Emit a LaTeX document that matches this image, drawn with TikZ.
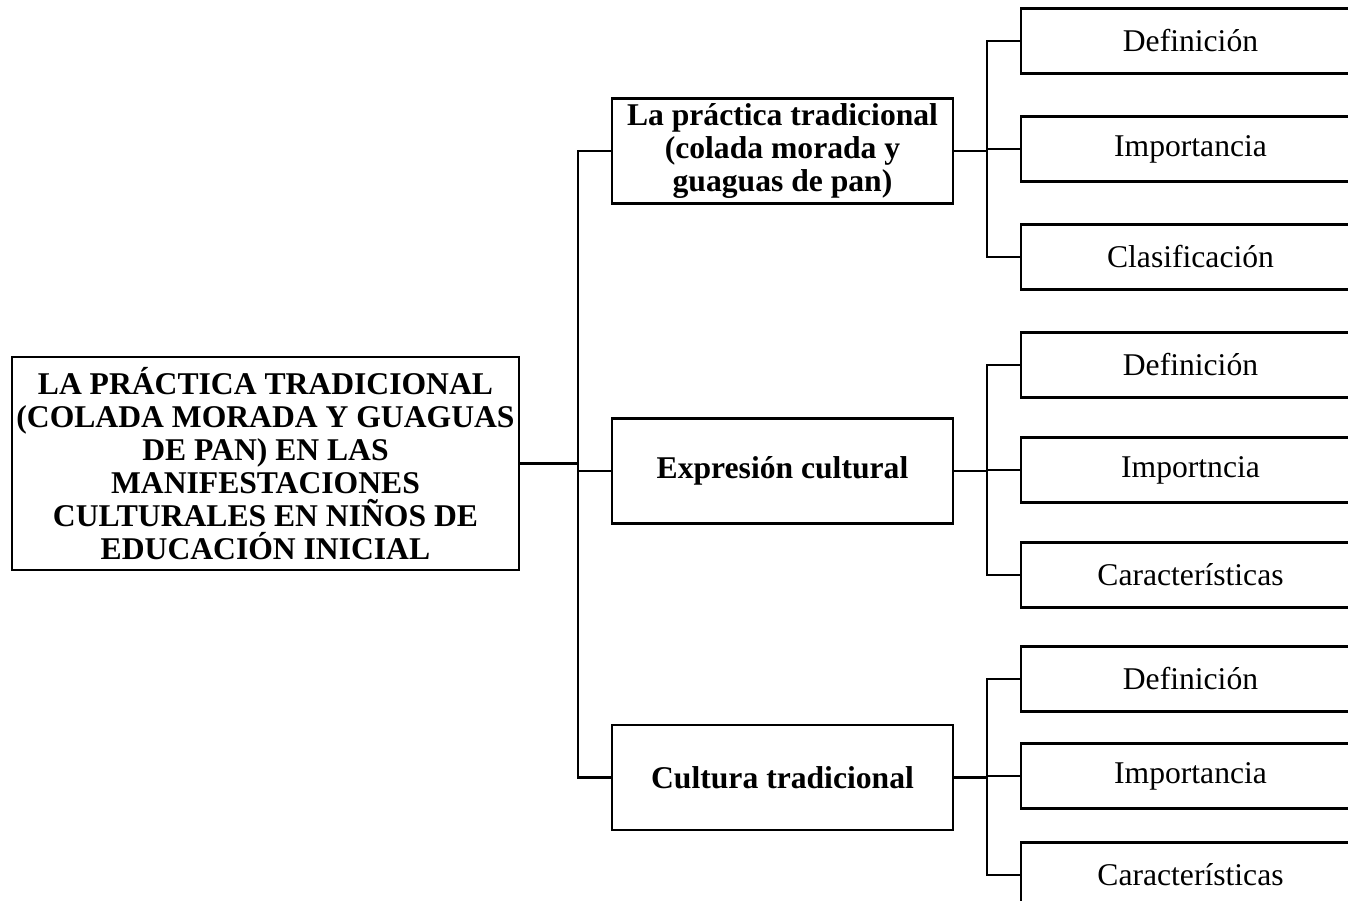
\documentclass[tikz,border=0pt]{standalone}
\usepackage{fontspec}
\setmainfont{Liberation Serif}
\begin{document}
\begin{tikzpicture}
% Define common styles
\tikzset{
    topic/.style={draw, line width=1.5pt, align=center, minimum width=10.14cm, minimum height=4.26cm, inner sep=0pt, font=\fontsize{18}{18.8}\selectfont\bfseries},
    part/.style={draw, line width=1.5pt, align=center, minimum width=6.82cm, minimum height=2.1cm, inner sep=0pt, font=\fontsize{18}{18.8}\selectfont\bfseries},
    item/.style={draw, line width=1.5pt, minimum width=6.78cm, minimum height=1.3cm, inner sep=0pt, font=\fontsize{18}{18.8}\selectfont},
    link/.style={line width=1.5pt}
}

\useasboundingbox (0,0) rectangle (26.96,18.02);

% Main topic (left)
\node[topic] (tema) at (5.31,8.75) {LA PRÁCTICA TRADICIONAL\\(COLADA MORADA Y GUAGUAS\\DE PAN) EN LAS\\MANIFESTACIONES\\CULTURALES EN NIÑOS DE\\EDUCACIÓN INICIAL};

% Dimensions (middle)
\node[part] (prac) at (15.65,15.0) {La práctica tradicional\\(colada morada y\\guaguas de pan)};
\node[part] (expr) at (15.65,8.6) {Expresión cultural};
\node[part] (cult) at (15.65,2.47) {Cultura tradicional};

% Indicators (right)
\node[item] (def1) at (23.81,17.2) {Definición};
\node[item] (imp1) at (23.81,15.04) {Importancia};
\node[item] (cla1) at (23.81,12.88) {Clasificación};

\node[item] (def2) at (23.81,10.72) {Definición};
\node[item] (imp2) at (23.81,8.62) {Importncia};
\node[item] (car2) at (23.81,6.52) {Características};

\node[item] (def3) at (23.81,4.44) {Definición};
\node[item] (imp3) at (23.81,2.5) {Importancia};
\node[item] (car3) at (23.81,0.52) {Características};

% Brackets
\coordinate (trunk) at (11.56,0);
\draw[link] (tema.east) -- (tema.east -| trunk);
\draw[link] (prac.west) -- (prac.west -| trunk) |- (cult.west);
\draw[link] (expr.west) -- (expr.west -| trunk);

\coordinate (fork) at (19.74,0);
\draw[link] (prac.east) -- (prac.east -| fork);
\draw[link] (def1.west) -| (fork |- def1.west) |- (cla1.west);
\draw[link] (imp1.west) -- (imp1.west -| fork);

\draw[link] (expr.east) -- (expr.east -| fork);
\draw[link] (def2.west) -| (fork |- def2.west) |- (car2.west);
\draw[link] (imp2.west) -- (imp2.west -| fork);

\draw[link] (cult.east) -- (cult.east -| fork);
\draw[link] (def3.west) -| (fork |- def3.west) |- (car3.west);
\draw[link] (imp3.west) -- (imp3.west -| fork);

\end{tikzpicture}
\end{document}
